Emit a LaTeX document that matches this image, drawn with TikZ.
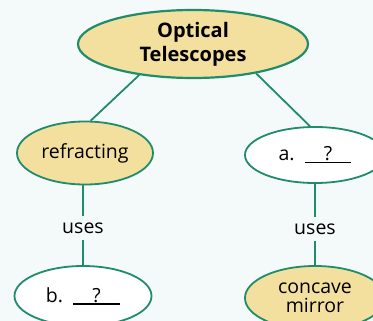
\documentclass[tikz,border=0pt]{standalone}
\usepackage{fontspec}
\setmainfont{Open Sans}
\usetikzlibrary{shapes.geometric}
\definecolor{mapgreen}{HTML}{1F8C6C}
\definecolor{mapsand}{HTML}{F4E09E}
\definecolor{mappaper}{HTML}{F4F9FA}
\newcommand{\blank}{\makebox[2.4em]{?}\llap{\rule[-2.5pt]{2.4em}{1.2pt}}}

\begin{document}
\begin{tikzpicture}[
  x=1pt, y=-1pt,
  every node/.style={font=\fontsize{19.5}{23}\selectfont, align=center},
  idea/.style={ellipse, draw=mapgreen, line width=1.8pt, fill=mapsand, inner sep=0pt},
  ask/.style={idea, fill=white},
  link/.style={line width=1.8pt, draw=mapgreen},
  word/.style={inner sep=0pt, minimum height=24pt}
]
\fill[mappaper] (0,0) rectangle (373,321);
\clip (0,0) rectangle (373,321);
\node[idea, line width=2.2pt, minimum width=230pt, minimum height=68pt,
  font=\fontsize{20}{24}\selectfont\bfseries] (optical) at (193,44) {Optical\\Telescopes};
\node[idea, minimum width=136pt, minimum height=63pt] (refracting) at (85,153) {refracting};
\node[ask, minimum width=140pt, minimum height=56pt] (qa) at (315,155) {a.\ \ \blank};
\node[ask, minimum width=137pt, minimum height=60pt] (qb) at (83,296) {b.\ \ \blank};
\node[idea, minimum width=140pt, minimum height=64pt] (mirror) at (315,298) {concave\\[-4pt]mirror};
\node[word] (uses1) at (83,228) {uses};
\node[word] (uses2) at (315,229) {uses};
\draw[link] (optical.210) -- (refracting.80);
\draw[link] (optical.-25) -- (qa.100);
\draw[link] (refracting.south -| uses1) -- (uses1) -- (qb);
\draw[link] (qa) -- (uses2) -- (mirror);
\end{tikzpicture}
\end{document}
